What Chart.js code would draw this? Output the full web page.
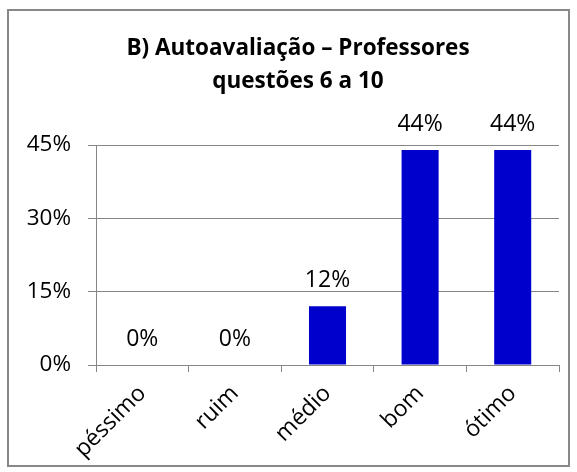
<!DOCTYPE html>
<html>
<head>
<meta charset="utf-8">
<script src="https://cdn.jsdelivr.net/npm/chart.js@4/dist/chart.umd.min.js"></script>
<style>
  html, body { margin: 0; padding: 0; background: #fff; }
  #wrap { position: relative; width: 577px; height: 472px; }
  #frame { position: absolute; left: 7px; top: 9px; width: 559px; height: 454px; border: 2px solid #888; box-sizing: content-box; }
  canvas { position: absolute; left: 0; top: 0; }
</style>
</head>
<body>
<div id="wrap">
  <div id="frame"></div>
  <canvas id="c" width="577" height="472"></canvas>
</div>
<script>
const titleLines = ['B) Autoavaliação – Professores', 'questões 6 a 10'];
const categories = ['péssimo', 'ruim', 'médio', 'bom', 'ótimo'];
const values = [0, 0, 12, 44, 44];
const yTicks = [0, 15, 30, 45];

const FONT = "'Open Sans', 'Liberation Sans', sans-serif";

const titlePlugin = {
  id: 'titleLines',
  afterDraw(chart) {
    const ctx = chart.ctx;
    ctx.save();
    ctx.fillStyle = '#000';
    ctx.font = 'bold 22.5px ' + FONT;
    ctx.textAlign = 'center';
    ctx.textBaseline = 'alphabetic';
    ctx.fillText(titleLines[0], 298, 55);
    ctx.fillText(titleLines[1], 298, 88);
    ctx.restore();
  }
};

const labelPlugin = {
  id: 'valueLabels',
  afterDatasetsDraw(chart) {
    const ctx = chart.ctx;
    const meta = chart.getDatasetMeta(0);
    ctx.save();
    ctx.fillStyle = '#000';
    ctx.font = '23px ' + FONT;
    ctx.textAlign = 'center';
    ctx.textBaseline = 'alphabetic';
    meta.data.forEach((bar, i) => {
      ctx.fillText(values[i] + '%', bar.x, bar.y - 19);
    });
    ctx.restore();
  }
};

new Chart(document.getElementById('c'), {
  type: 'bar',
  data: {
    labels: categories,
    datasets: [{
      data: values,
      backgroundColor: '#0000CC',
      borderWidth: 0,
      barPercentage: 0.4,
      categoryPercentage: 1.0
    }]
  },
  options: {
    responsive: false,
    animation: false,
    devicePixelRatio: 1,
    layout: { padding: { top: 145, right: 18, left: 0, bottom: 0 } },
    plugins: {
      legend: { display: false },
      title: { display: false },
      tooltip: { enabled: false }
    },
    scales: {
      y: {
        min: 0,
        max: 45,
        afterBuildTicks(scale) { scale.ticks = yTicks.map(v => ({ value: v })); },
        afterFit(scale) { scale.width = 96; },
        ticks: {
          callback: v => v + '%',
          color: '#000',
          font: { family: FONT, size: 22.5 },
          padding: 17
        },
        grid: { color: '#868686', lineWidth: 1, tickLength: 8, drawTicks: true },
        border: { color: '#868686', width: 1 }
      },
      x: {
        afterFit(scale) { scale.height = 107; },
        ticks: {
          color: '#000',
          font: { family: FONT, size: 23 },
          minRotation: 45,
          maxRotation: 45,
          padding: 8
        },
        grid: { offset: true, drawOnChartArea: false, drawTicks: true, tickLength: 7, color: '#868686' },
        border: { color: '#868686', width: 1 }
      }
    }
  },
  plugins: [titlePlugin, labelPlugin]
});
</script>
</body>
</html>
